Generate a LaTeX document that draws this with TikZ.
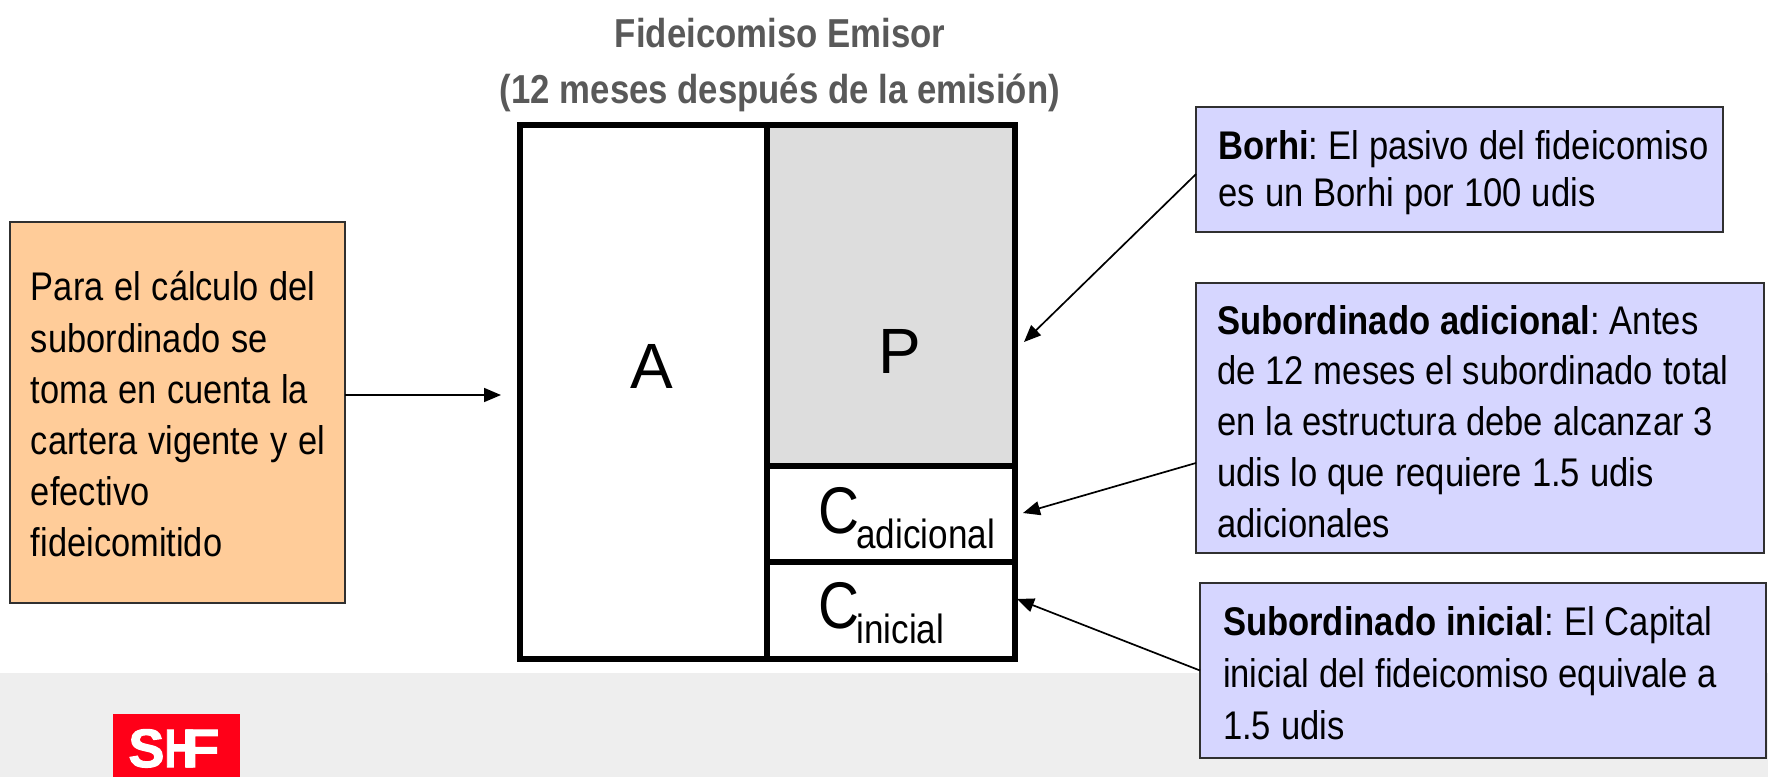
\documentclass[tikz,border=0pt]{standalone}
\usepackage{fontspec}
\setmainfont[FakeStretch=0.86]{Liberation Sans}
\newfontfamily\plainfont{Liberation Sans}
\newfontfamily\bluefont[FakeStretch=0.865]{Liberation Sans}
\newfontfamily\logofont[FakeBold=2]{Liberation Sans Bold}
\usetikzlibrary{arrows.meta}
\definecolor{footgray}{HTML}{EEEEEE}
\definecolor{orangebox}{HTML}{FFCC99}
\definecolor{bluebox}{HTML}{D6D6FF}
\definecolor{cellgray}{HTML}{DDDDDD}
\definecolor{titlegray}{HTML}{595959}
\definecolor{logored}{HTML}{FF0018}
\definecolor{edgegray}{HTML}{303030}
\newcommand{\bodyfont}{\fontsize{20}{25.6}\selectfont\frenchspacing\spaceskip=5.35pt\relax}
\newcommand{\bluetext}[1]{\bluefont\fontsize{20}{#1}\selectfont\frenchspacing\spaceskip=5pt\relax}
\newcommand{\capfont}{\fontsize{33}{36}\selectfont}
\newcommand{\subfont}{\fontsize{20.4}{22}\selectfont}
\tikzset{
  x=0.5pt,y=-0.5pt,
  note/.style={draw=edgegray,line width=0.9pt,inner sep=0pt,outer sep=0pt,align=left,anchor=north west,text=black},
  cell/.style={draw=black,line width=2.6pt,inner sep=0pt,outer sep=0pt,anchor=north west},
  bigletter/.style={font=\plainfont\fontsize{32}{36}\selectfont,inner sep=0pt},
  celllabel/.style={inner sep=0pt,anchor=base west},
  pointer/.style={draw=black,line width=0.85pt,-{Triangle[length=8.5pt,width=7pt]}},
}
\begin{document}
\begin{tikzpicture}
\useasboundingbox (0,0) rectangle (1768,777);
\fill[footgray] (0,673) rectangle (1768,777);
% logo
\fill[logored] (113,714) rectangle (240,777);
\node[text=white,font=\logofont\fontsize{27}{27}\selectfont,inner sep=0pt,anchor=base west] (logo) at (128,767) {S\scalebox{0.8}[1]{H}\kern-7pt\scalebox{1.15}[1]{F}};
% title
\node[text=titlegray,font=\fontsize{20.2}{28}\selectfont\bfseries,align=center,inner sep=0pt] (title) at (780,65) {Fideicomiso Emisor\\(12 meses después de la emisión)};
% cells
\node[cell,minimum width=123.5pt,minimum height=267pt] (A) at (520,125) {};
\node[cell,fill=cellgray,minimum width=124pt,minimum height=170.5pt] (P) at (767,125) {};
\node[cell,minimum width=124pt,minimum height=48pt] (Cad) at (767,466) {};
\node[cell,minimum width=124pt,minimum height=48.5pt] (Cin) at (767,562) {};
\node[bigletter] (Atxt) at (652,366) {A};
\node[bigletter] (Ptxt) at (900,351) {P};
\node[celllabel] (Cadtxt) at (818,533) {\capfont C\kern-1.5pt\raisebox{-7.5pt}{\subfont adicional}};
\node[celllabel] (Cintxt) at (818,628) {\capfont C\kern-1.5pt\raisebox{-7.5pt}{\subfont inicial}};
% notes
\node[note,fill=orangebox,minimum width=167.5pt,minimum height=190.5pt,text width=155pt] (left) at (10,222) {\hspace*{4.25pt}\parbox{150pt}{\bodyfont\raggedright\vspace*{1.9pt}Para el cálculo del\\subordinado se\\toma en cuenta la\\cartera vigente y el\\efectivo\\fideicomitido}};
\node[note,fill=bluebox,minimum width=263.5pt,minimum height=62.5pt] (b1) at (1196,107) {\hspace*{9pt}\parbox{250pt}{\bluetext{23.7}\raggedright\vspace*{3.4pt}\textbf{Borhi}: El pasivo del fideicomiso\\es un Borhi por 100 udis}};
\node[note,fill=bluebox,minimum width=284pt,minimum height=135pt] (b2) at (1196,283) {\hspace*{9pt}\parbox{272pt}{\bluetext{25.4}\raggedright\vspace*{3.4pt}\textbf{Subordinado adicional}: Antes\\de 12 meses el subordinado total\\en la estructura debe alcanzar 3\\udis lo que requiere 1.5 udis\\adicionales}};
\node[note,fill=bluebox,minimum width=283pt,minimum height=87.5pt] (b3) at (1200,583) {\hspace*{10pt}\parbox{270pt}{\bluetext{26}\raggedright\vspace*{3pt}\textbf{Subordinado inicial}: El Capital\\inicial del fideicomiso equivale a\\1.5 udis}};
% connector ends
\coordinate (tA) at (501,395);
\coordinate (tP) at (1024,342);
\coordinate (tCad) at (1023,513);
\coordinate (tCin) at (1017,599);
\draw[pointer] (left.east |- tA) -- (tA);
\draw[pointer] (b1.181.3) -- (tP);
\draw[pointer] (b2.189.8) -- (tCad);
\draw[pointer] (b3.west) -- (tCin);
\end{tikzpicture}
\end{document}
